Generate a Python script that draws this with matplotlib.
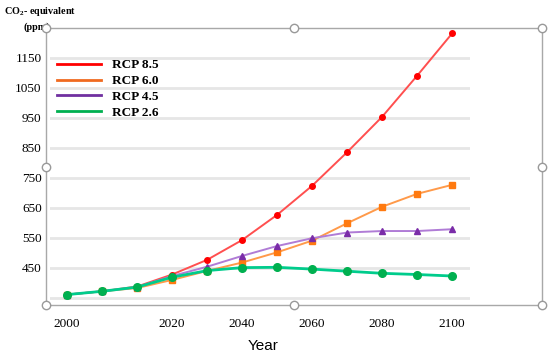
import matplotlib
matplotlib.use('Agg')

import matplotlib.pyplot as plt
from matplotlib.lines import Line2D
from matplotlib.patches import Rectangle

# categories (evenly spaced, as in the original spreadsheet chart)
years = [2000, 2005, 2010, 2020, 2030, 2040, 2050, 2060, 2070, 2080, 2090, 2100]
tick_years = [2000, 2020, 2040, 2060, 2080, 2100]

# CO2-equivalent concentrations (ppm)
rcp85 = [361, 372, 388, 428, 477, 543, 627, 724, 836, 954, 1091, 1232]
rcp60 = [361, 372, 383, 410, 440, 468, 502, 541, 599, 654, 697, 727]
rcp45 = [361, 372, 386, 423, 454, 490, 523, 549, 568, 573, 573, 579]
rcp26 = [361, 372, 386, 419, 441, 451, 452, 446, 439, 432, 428, 423]

names = ['RCP 8.5', 'RCP 6.0', 'RCP 4.5', 'RCP 2.6']
yticks = [350, 450, 550, 650, 750, 850, 950, 1050, 1150]

W, H = 550, 356
serif = 'Liberation Serif'
plt.rcParams['mathtext.fontset'] = 'custom'
plt.rcParams['mathtext.rm'] = serif
plt.rcParams['mathtext.bf'] = serif + ':bold'

fig = plt.figure(figsize=(W / 100, H / 100), dpi=100)
ax = fig.add_axes([50 / W, (H - 300) / H, 420 / W, 272 / H])

x = list(range(len(years)))

# series: (values, line colour, marker, marker colour, marker size, line width)
styles = [
    (rcp85, '#FF4F4F', 'o', '#FF0000', 4, 1.4),
    (rcp60, '#FF9A4A', 's', '#FF7A10', 5, 1.4),
    (rcp45, '#B07CD6', '^', '#7A2CA8', 5, 1.4),
    (rcp26, '#00CC8C', 'o', '#00B050', 5.5, 2.0),
]
for vals, lc, mk, mc, ms, lw in styles:
    ax.plot(x, vals, color=lc, lw=lw, marker=mk, ms=ms,
            mfc=mc, mec=mc, zorder=3)

ax.set_xlim(-0.49, 11.51)
ax.set_ylim(343, 1250)
ax.set_yticks(yticks)
ax.set_yticklabels([''] + [str(v) for v in yticks[1:]])
ax.set_xticks([years.index(y) for y in tick_years])
ax.set_xticklabels([str(y) for y in tick_years])
ax.yaxis.grid(True, color='#E6E6E6', lw=2)
ax.set_axisbelow(True)
for s in ax.spines.values():
    s.set_visible(False)
ax.tick_params(length=0)
ax.tick_params(axis='y', pad=6, labelsize=9.5)
ax.tick_params(axis='x', pad=13, labelsize=9.5)
for lab in ax.get_xticklabels() + ax.get_yticklabels():
    lab.set_family(serif)

# legend (lines only, no frame)
handles = [Line2D([], [], color=c, lw=2) for c in ['#FF0000', '#F06A20', '#7030A0', '#00B050']]
leg = ax.legend(handles, names, loc='upper left',
                bbox_to_anchor=(57 / W, 1 - 59 / H), bbox_transform=fig.transFigure,
                frameon=False, handlelength=3.3, handletextpad=0.9,
                labelspacing=0.28, borderaxespad=0, borderpad=0,
                prop={'family': serif, 'weight': 'bold', 'size': 9.5})

# selection frame with handles
fig.add_artist(Rectangle((45.5 / W, (H - 305) / H), 496 / W, 277 / H,
                         transform=fig.transFigure, fill=False,
                         ec='#A8A8A8', lw=1, zorder=5))
hx = [45.5, 293.5, 541.5]
hy = [28, 166.5, 305]
pts = [(a, b) for a in hx for b in hy if not (a == 293.5 and b == 166.5)]
fig.add_artist(Line2D([p[0] / W for p in pts], [1 - p[1] / H for p in pts],
                      transform=fig.transFigure, ls='none', marker='o', ms=6,
                      mfc='white', mec='#999999', mew=1, zorder=6))

# axis titles
fig.text(4 / W, 1 - 11 / H, r'CO$_\mathbf{2}$- equivalent', family=serif,
         weight='bold', size=7.3, ha='left', va='center')
fig.text(23 / W, 1 - 27 / H, '(ppm)', family=serif, weight='bold',
         size=7.3, ha='left', va='center')
fig.text(263 / W, 1 - 346 / H, 'Year', family='Liberation Sans', size=11,
         ha='center', va='center')

fig.savefig('out.png', dpi=100)
